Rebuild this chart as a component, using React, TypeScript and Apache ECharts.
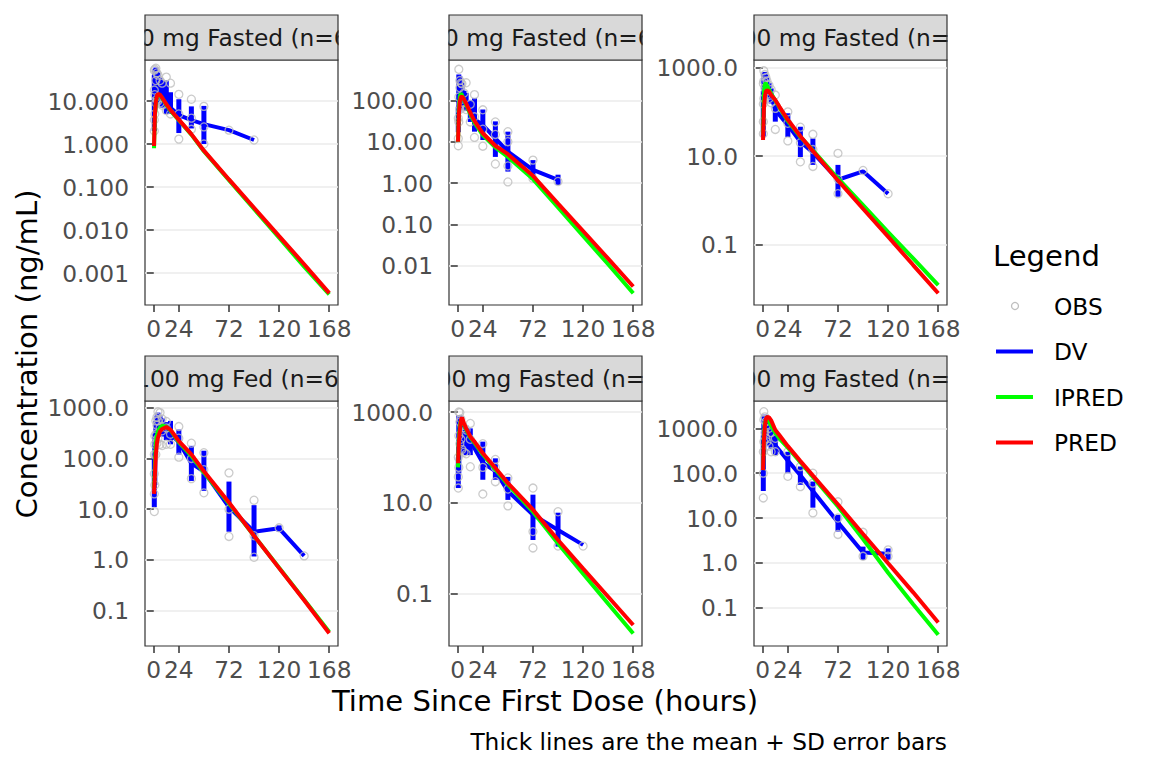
import { useEffect, useRef } from 'react';
import * as echarts from 'echarts';

const FONT = '"DejaVu Sans", sans-serif';
const BLUE = '#0000FF';
const GREEN = '#00FF00';
const RED = '#FF0000';
const OBS_GREY = '#BEBEBE';
const SMALL = 23.3;
const LARGE = 29.1;

// shared time grid of the model curves (h)
const curveTimes = [0.25, 1, 2, 3, 4, 6, 8, 12, 16, 24, 36, 48, 72, 96, 120, 144, 168];
const xTicks = [0, 24, 72, 120, 168];

const panelTitles = [
  '10 mg Fasted (n=6)',
  '50 mg Fasted (n=6)',
  '100 mg Fasted (n=6)',
  '100 mg Fed (n=6)',
  '200 mg Fasted (n=6)',
  '400 mg Fasted (n=6)',
];

// ---- panel 1
const p1Times = [0.5, 1, 2, 3, 4, 6, 8, 12, 16, 24, 36, 48, 72, 96];
const p1Mean = [9, 20, 25, 22, 20, 16, 14, 10, 7, 4.7, 3.6, 2.9, 2.1, 1.24];
const p1Lo = [2, 6, 10, 10, 9, 8, 7, 5, 5, 1.8, 2.3, 1.0, null, null];
const p1Hi = [40, 55, 60, 50, 45, 35, 30, 30, 16, 11, 7.5, 7.7, null, null];
const p1Obs = [[0.5, 2], [0.5, 3.6], [0.5, 18], [0.5, 52], [1, 5], [1, 14], [1, 55], [2, 9], [2, 30], [2, 58], [3, 11], [3, 45], [4, 10], [4, 40], [6, 9], [6, 30], [8, 8], [8, 26], [12, 6], [12, 36], [16, 5], [16, 26], [24, 1.3], [24, 5], [24, 14.3], [36, 2.2], [36, 4], [36, 11], [48, 1.0], [48, 2.5], [48, 7.5], [72, 2.1], [96, 1.24]];
const p1Pred = [0.9, 4.5, 9.5, 13, 14.8, 14, 12, 8.5, 6.2, 3.7, 1.7, 0.7, 0.15, 0.033, 0.0072, 0.0016, 0.00034];
const p1Ipred = [0.8, 4.0, 9, 12.5, 14.2, 13.5, 11.6, 8.2, 6.0, 3.6, 1.65, 0.68, 0.145, 0.031, 0.0066, 0.0014, 0.00032];

// ---- panel 2
const p2Times = [0.5, 1, 2, 3, 4, 6, 8, 12, 16, 24, 36, 48, 72, 96];
const p2Mean = [35, 160, 170, 140, 130, 110, 90, 55, 35, 25, 12, 5.8, 2.1, 1.2];
const p2Lo = [17, 50, 60, 60, 70, 75, 55, 30, 17.5, 11, 4.3, 1.9, 1.2, 0.9];
const p2Hi = [70, 420, 380, 280, 260, 170, 150, 100, 114, 60, 31, 17.5, 3.6, 1.6];
const p2Obs = [[0.5, 8], [0.5, 12], [0.5, 37], [1, 30], [1, 120], [1, 560], [2, 60], [2, 200], [2, 300], [3, 80], [3, 260], [4, 90], [4, 250], [6, 70], [6, 150], [8, 60], [8, 265], [12, 30], [12, 80], [16, 12.7], [16, 40], [16, 137], [24, 7.8], [24, 20], [24, 59], [36, 2.9], [36, 15], [36, 30], [48, 1.07], [48, 2.6], [48, 10], [48, 17.5], [72, 1.3], [72, 3.6], [96, 1.1]];
const p2Pred = [10, 45, 95, 120, 125, 105, 84, 50, 32, 16, 8, 5, 1.5, 0.32, 0.07, 0.015, 0.0032];
const p2Ipred = [10, 60, 125, 145, 135, 100, 78, 46, 29, 14.5, 7.3, 4.3, 1.25, 0.26, 0.053, 0.011, 0.0022];

// ---- panel 3
const p3Times = [0.5, 1, 2, 3, 4, 6, 8, 12, 24, 36, 48, 72, 96, 120];
const p3Mean = [90, 400, 550, 480, 400, 320, 230, 110, 50, 21, 12, 2.9, 4.5, 1.4];
const p3Lo = [27, 150, 300, 280, 250, 200, 155, 60, 27, 9.5, 6.3, 1.2, null, null];
const p3Hi = [300, 740, 800, 700, 600, 450, 340, 170, 93, 46, 25, 6.3, null, null];
const p3Obs = [[0.5, 32], [0.5, 60], [0.5, 150], [0.5, 440], [1, 200], [1, 500], [1, 850], [2, 350], [2, 700], [3, 300], [3, 600], [4, 250], [4, 500], [6, 200], [6, 400], [8, 160], [8, 320], [12, 40], [12, 120], [12, 240], [24, 22], [24, 55], [24, 100], [36, 7.4], [36, 20], [36, 45], [48, 5.8], [48, 14], [48, 31], [72, 1.4], [72, 3], [72, 11.5], [96, 4.7], [120, 1.4]];
const p3Pred = [23, 110, 220, 290, 310, 290, 240, 185, 130, 66, 28, 13, 2.8, 0.64, 0.15, 0.034, 0.0078];
const p3Ipred = [30, 250, 420, 450, 400, 320, 260, 180, 125, 62, 27, 13.5, 3.1, 0.77, 0.19, 0.048, 0.012];

// ---- panel 4
const p4Times = [0.5, 1, 2, 3, 4, 6, 8, 12, 16, 24, 36, 48, 72, 96, 120, 144];
const p4Mean = [40, 110, 330, 440, 500, 450, 420, 350, 300, 210, 80, 55, 11, 3.6, 4.2, 1.2];
const p4Lo = [11, 30, 150, 250, 300, 280, 270, 230, 190, 120, 36, 23, 3.6, 1.17, 3.6, null];
const p4Hi = [130, 300, 550, 700, 800, 700, 620, 520, 550, 370, 177, 142, 35, 12, 4.8, null];
const p4Obs = [[0.5, 9], [0.5, 20], [0.5, 50], [0.5, 120], [1, 30], [1, 190], [1, 276], [2, 120], [2, 300], [2, 550], [3, 200], [3, 450], [3, 650], [4, 250], [4, 550], [4, 830], [6, 190], [6, 400], [6, 800], [8, 180], [8, 350], [8, 600], [12, 190], [12, 400], [12, 535], [16, 190], [16, 300], [24, 106], [24, 250], [24, 425], [36, 40], [36, 100], [36, 200], [48, 21], [48, 60], [48, 130], [72, 2.9], [72, 10], [72, 52], [96, 1.13], [96, 3], [96, 15], [120, 4.3], [144, 1.2]];
const p4Pred = [20, 45, 120, 200, 257, 340, 380, 415, 370, 220, 120, 56, 13.6, 3.0, 0.69, 0.16, 0.036];
const p4Ipred = [25, 70, 200, 290, 340, 410, 440, 420, 360, 210, 112, 53, 13, 3.0, 0.7, 0.165, 0.038];

// ---- panel 5
const p5Times = [0.5, 1, 2, 3, 4, 6, 8, 12, 24, 36, 48, 72, 96, 120];
const p5Mean = [45, 300, 500, 420, 350, 300, 270, 230, 75, 50, 18, 5.4, 2.5, 1.17];
const p5Lo = [21, 44, 200, 180, 145, 120, 112, 112, 32, 32, 11.5, 1.5, 1.07, null];
const p5Hi = [100, 860, 860, 700, 560, 560, 500, 435, 222, 95, 37, 15, 6, null];
const p5Obs = [[0.5, 21], [0.5, 37], [0.5, 100], [1, 60], [1, 300], [1, 1000], [2, 200], [2, 600], [2, 970], [3, 250], [3, 700], [4, 150], [4, 500], [6, 130], [6, 450], [8, 120], [8, 400], [12, 62], [12, 250], [12, 560], [24, 15.5], [24, 60], [24, 200], [36, 29], [36, 60], [36, 90], [48, 8.5], [48, 20], [48, 35], [72, 1.0], [72, 2.3], [72, 21], [96, 1.1], [96, 6.3], [120, 1.1]];
const p5Pred = [74, 200, 400, 650, 760, 560, 436, 285, 222, 123, 58, 27, 7, 1.5, 0.35, 0.084, 0.02];
const p5Ipred = [60, 250, 500, 650, 665, 520, 410, 270, 210, 115, 54, 25, 6.3, 1.25, 0.27, 0.059, 0.013];

// ---- panel 6
const p6Times = [0.5, 1, 2, 3, 4, 6, 8, 12, 24, 36, 48, 72, 96, 120];
const p6Mean = [110, 900, 1200, 950, 800, 650, 520, 420, 190, 90, 40, 8, 1.7, 1.6];
const p6Lo = [40, 300, 600, 500, 450, 400, 350, 250, 100, 55, 17, 5, 1.17, 1.15];
const p6Hi = [700, 2000, 2000, 1600, 1400, 1100, 900, 700, 300, 141, 65, 11.8, 2.3, 2.1];
const p6Obs = [[0.5, 28], [0.5, 100], [0.5, 300], [1, 500], [1, 1550], [1, 2350], [2, 800], [2, 1800], [3, 600], [3, 1400], [4, 500], [4, 1200], [6, 400], [6, 1000], [8, 300], [8, 800], [12, 300], [12, 600], [24, 85], [24, 300], [36, 50], [36, 140], [48, 13], [48, 60], [48, 100], [72, 4.3], [72, 10], [72, 23], [96, 1.4], [96, 4.8], [120, 1.4], [120, 1.95]];
const p6Pred = [117, 500, 1100, 1600, 1800, 1750, 1500, 920, 700, 400, 186, 88, 20, 4.4, 0.98, 0.22, 0.047];
const p6Ipred = [117, 650, 1300, 1500, 1550, 1400, 1150, 780, 590, 370, 175, 82, 18, 3.4, 0.6, 0.12, 0.025];

// y axes: tick values, label decimals, visible log10 range
const yTicks = [
  [0.001, 0.01, 0.1, 1, 10],
  [0.01, 0.1, 1, 10, 100],
  [0.1, 10, 1000],
  [0.1, 1, 10, 100, 1000],
  [0.1, 10, 1000],
  [0.1, 1, 10, 100, 1000],
];
const yDecimals = [3, 2, 1, 1, 1, 1];
const yLogRange = [
  [-3.744, 1.954],
  [-2.942, 2.973],
  [-2.373, 3.174],
  [-1.696, 3.132],
  [-2.163, 3.243],
  [-1.854, 3.609],
];

const legendItems = ['OBS', 'DV', 'IPRED', 'PRED'];

// layout (px)
const colLeft = [145, 449, 754];
const rowTop = [60, 401];
const panelW = 193;
const panelH = 245;
const stripH = 45;

const panels = [
  { t: p1Times, mean: p1Mean, lo: p1Lo, hi: p1Hi, obs: p1Obs, pred: p1Pred, ipred: p1Ipred },
  { t: p2Times, mean: p2Mean, lo: p2Lo, hi: p2Hi, obs: p2Obs, pred: p2Pred, ipred: p2Ipred },
  { t: p3Times, mean: p3Mean, lo: p3Lo, hi: p3Hi, obs: p3Obs, pred: p3Pred, ipred: p3Ipred },
  { t: p4Times, mean: p4Mean, lo: p4Lo, hi: p4Hi, obs: p4Obs, pred: p4Pred, ipred: p4Ipred },
  { t: p5Times, mean: p5Mean, lo: p5Lo, hi: p5Hi, obs: p5Obs, pred: p5Pred, ipred: p5Ipred },
  { t: p6Times, mean: p6Mean, lo: p6Lo, hi: p6Hi, obs: p6Obs, pred: p6Pred, ipred: p6Ipred },
];

const tickLine = { color: '#333333', width: 1.5 };
const tickLabel = { color: '#4D4D4D', fontSize: SMALL, fontFamily: FONT };

const textStyle = (text: string, size: number, align: string, fill = '#000000') => ({
  text, font: `${size}px ${FONT}`, fill,
  textAlign: align, textVerticalAlign: 'middle', align, verticalAlign: 'middle',
});

function buildOption() {
  const grid: any[] = [];
  const xAxis: any[] = [];
  const yAxis: any[] = [];
  const series: any[] = [];
  const graphic: any[] = [];
  const xPad = 168 * 0.05;

  panels.forEach((p, i) => {
    const left = colLeft[i % 3];
    const top = rowTop[Math.floor(i / 3)];
    grid.push({
      left, top, width: panelW, height: panelH,
      show: true, borderColor: '#333333', borderWidth: 1.2, backgroundColor: '#FFFFFF',
      outerBoundsMode: 'none',
    });
    xAxis.push({
      type: 'value', gridIndex: i, min: -xPad, max: 168 + xPad,
      axisLine: { show: false },
      splitLine: { show: false },
      axisTick: { show: true, length: 7, customValues: xTicks, lineStyle: tickLine },
      axisLabel: { ...tickLabel, customValues: xTicks, margin: 12 },
    });
    const dec = yDecimals[i];
    yAxis.push({
      type: 'log', logBase: 10, gridIndex: i,
      min: Math.pow(10, yLogRange[i][0]), max: Math.pow(10, yLogRange[i][1]),
      axisLine: { show: false },
      axisTick: { show: true, length: 7, customValues: yTicks[i], lineStyle: tickLine },
      axisLabel: { ...tickLabel, customValues: yTicks[i], margin: 16, formatter: (v: number) => Number(v).toFixed(dec) },
      splitLine: { show: true, lineStyle: { color: '#EBEBEB', width: 1.5 } },
      minorTick: { show: false },
      minorSplitLine: { show: false },
    });

    const bars = p.t
      .map((t, k) => [t, p.lo[k], p.hi[k]])
      .filter((d) => d[1] != null && d[2] != null);
    series.push({
      type: 'custom', name: 'DV', xAxisIndex: i, yAxisIndex: i, clip: true, z: 2,
      encode: { x: 0, y: [1, 2] },
      data: bars,
      renderItem: (_params: any, api: any) => {
        const a = api.coord([api.value(0), api.value(1)]);
        const b = api.coord([api.value(0), api.value(2)]);
        return {
          type: 'line',
          shape: { x1: a[0], y1: a[1], x2: b[0], y2: b[1] },
          style: { stroke: BLUE, lineWidth: 5 },
        };
      },
    });
    series.push({
      type: 'line', name: 'DV', xAxisIndex: i, yAxisIndex: i, z: 2,
      data: p.t.map((t, k) => [t, p.mean[k]]),
      showSymbol: false, symbol: 'none',
      lineStyle: { color: BLUE, width: 4 },
    });
    series.push({
      type: 'scatter', name: 'OBS', xAxisIndex: i, yAxisIndex: i, z: 3,
      data: p.obs, symbol: 'circle', symbolSize: 8,
      itemStyle: { color: 'rgba(0,0,0,0)', borderColor: OBS_GREY, borderWidth: 1.3 },
    });
    series.push({
      type: 'line', name: 'IPRED', xAxisIndex: i, yAxisIndex: i, z: 4,
      data: curveTimes.map((t, k) => [t, p.ipred[k]]),
      showSymbol: false, symbol: 'none',
      lineStyle: { color: GREEN, width: 4 },
    });
    series.push({
      type: 'line', name: 'PRED', xAxisIndex: i, yAxisIndex: i, z: 5,
      data: curveTimes.map((t, k) => [t, p.pred[k]]),
      showSymbol: false, symbol: 'none',
      lineStyle: { color: RED, width: 4 },
    });

    // facet strip; the label is wider than the strip and gets clipped at both ends
    const sTop = top - stripH;
    graphic.push({
      type: 'rect', z: 9, shape: { x: left, y: sTop, width: panelW, height: stripH },
      style: { fill: '#D9D9D9', stroke: 'none' },
    });
    graphic.push({
      type: 'text', z: 10, x: left + panelW / 2, y: sTop + stripH / 2,
      style: textStyle(panelTitles[i], SMALL, 'center', '#1A1A1A'),
    });
    graphic.push({
      type: 'rect', z: 11, shape: { x: left - 40, y: sTop + 1, width: 39.4, height: stripH - 2 },
      style: { fill: '#FFFFFF' },
    });
    graphic.push({
      type: 'rect', z: 11, shape: { x: left + panelW + 0.6, y: sTop + 1, width: 40, height: stripH - 2 },
      style: { fill: '#FFFFFF' },
    });
    graphic.push({
      type: 'rect', z: 12, shape: { x: left, y: sTop, width: panelW, height: stripH },
      style: { fill: 'rgba(0,0,0,0)', stroke: '#333333', lineWidth: 1.2 },
    });
  });

  // axis titles and caption
  graphic.push({
    type: 'text', z: 10, x: 27, y: 354, rotation: Math.PI / 2,
    style: textStyle('Concentration (ng/mL)', LARGE, 'center'),
  });
  graphic.push({
    type: 'text', z: 10, x: 545, y: 701,
    style: textStyle('Time Since First Dose (hours)', LARGE, 'center'),
  });
  graphic.push({
    type: 'text', z: 10, x: 947, y: 741,
    style: textStyle('Thick lines are the mean + SD error bars', SMALL, 'right'),
  });

  // legend
  graphic.push({
    type: 'text', z: 10, x: 993, y: 256,
    style: textStyle('Legend', LARGE, 'left'),
  });
  const keyColors = [OBS_GREY, BLUE, GREEN, RED];
  legendItems.forEach((name, k) => {
    const y = 306 + k * 45.5;
    if (k === 0) {
      graphic.push({
        type: 'circle', z: 10, shape: { cx: 1015, cy: y, r: 3.5 },
        style: { fill: 'rgba(0,0,0,0)', stroke: OBS_GREY, lineWidth: 1.3 },
      });
    } else {
      graphic.push({
        type: 'line', z: 10, shape: { x1: 996, y1: y, x2: 1033, y2: y },
        style: { stroke: keyColors[k], lineWidth: 4 },
      });
    }
    graphic.push({
      type: 'text', z: 10, x: 1054, y,
      style: textStyle(name, SMALL, 'left'),
    });
  });

  return {
    animation: false,
    backgroundColor: '#FFFFFF',
    textStyle: { fontFamily: FONT },
    grid, xAxis, yAxis, series, graphic,
  };
}

const App = () => {
  const chartRef = useRef<HTMLDivElement>(null);

  useEffect(() => {
    if (!chartRef.current) return;
    const chart = echarts.init(chartRef.current, null, { renderer: 'svg' });
    chart.setOption(buildOption());
    return () => {
      chart.dispose();
    };
  }, []);

  return (
    <div
      ref={chartRef}
      style={{ position: 'absolute', left: 0, top: 0, width: '1152px', height: '768px' }}
    />
  );
};

export default App;
